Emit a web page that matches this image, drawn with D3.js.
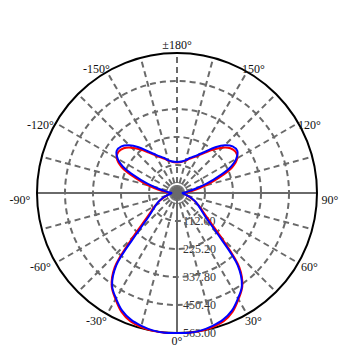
<!DOCTYPE html>
<html>
<head>
<meta charset="utf-8">
<script src="https://cdn.jsdelivr.net/npm/d3@7"></script>
<style>
  html, body { margin: 0; padding: 0; background: #fff; }
</style>
</head>
<body>
<svg id="chart"></svg>
<script>
// gamma angles (deg) of each half plane, 0 = nadir
const gammas = [0, 5, 10, 15, 20, 25, 30, 35, 40, 45, 50, 55, 60, 65, 70, 75, 80, 85, 90,
  95, 100, 105, 110, 115, 120, 125, 130, 135, 140, 145, 150, 155, 160, 165, 170, 175, 180];

// intensity (cd) per gamma
const redValues = [563, 564, 563, 558, 549, 528, 494, 458, 390, 250, 165, 125, 100, 80, 60, 45, 35, 28, 25,
  45, 75, 120, 180, 245, 280, 288, 280, 258, 228, 198, 175, 158, 146, 135, 128, 124, 123];
const blueValues = [563, 564, 561, 553, 542, 522, 490, 455, 380, 225, 150, 118, 98, 82, 64, 46, 33, 25, 22,
  35, 55, 95, 155, 230, 275, 296, 292, 272, 240, 205, 180, 162, 150, 137, 130, 126, 125];

const ringValues = [112.6, 225.2, 337.8, 450.4, 563.0];
const ringLabels = ['112.60', '225.20', '337.80', '450.40', '563.00'];
const angleTicks = [0, 30, 60, 90, 120, 150, 180, -150, -120, -90, -60, -30];
const angleLabels = ['0°', '30°', '60°', '90°', '120°', '150°', '±180°', '-150°', '-120°', '-90°', '-60°', '-30°'];

const width = 350, height = 350;
const cx = 177, cy = 193, R = 140;

const svg = d3.select('#chart')
  .attr('width', width)
  .attr('height', height)
  .attr('viewBox', [0, 0, width, height]);

const g = svg.append('g').attr('transform', `translate(${cx},${cy})`);

const r = d3.scaleLinear().domain([0, 563]).range([0, R]);
// gamma (signed, deg) -> lineRadial angle (0 at top, clockwise)
const toAngle = gm => Math.PI - gm * Math.PI / 180;

// value labels (under the grid)
g.append('g')
  .selectAll('text')
  .data(ringValues)
  .join('text')
    .attr('x', 6)
    .attr('y', d => r(d))
    .attr('dy', '0.35em')
    .attr('font-family', 'Liberation Serif, Times New Roman, serif')
    .attr('font-size', 12)
    .attr('fill', '#333')
    .text((d, i) => ringLabels[i]);

const gridColor = '#6a6a6a';

// dashed rings
g.append('g')
  .selectAll('circle')
  .data(ringValues.slice(0, -1))
  .join('circle')
    .attr('r', d => r(d))
    .attr('fill', 'none')
    .attr('stroke', gridColor)
    .attr('stroke-width', 2)
    .attr('stroke-dasharray', '6,4');

// spokes every 15 deg
const spokes = d3.range(0, 360, 15);
g.append('g')
  .selectAll('line')
  .data(spokes)
  .join('line')
    .attr('x1', 0).attr('y1', 0)
    .attr('x2', d => R * Math.sin(d * Math.PI / 180))
    .attr('y2', d => R * Math.cos(d * Math.PI / 180))
    .attr('stroke', gridColor)
    .attr('stroke-width', 2)
    .attr('stroke-dasharray', d => (d % 90 === 0 && d !== 180) ? null : '6,4');

// short spokes round the centre
g.append('g')
  .selectAll('line')
  .data(d3.range(0, 360, 5))
  .join('line')
    .attr('x1', 0).attr('y1', 0)
    .attr('x2', d => 11 * Math.sin(d * Math.PI / 180))
    .attr('y2', d => 11 * Math.cos(d * Math.PI / 180))
    .attr('stroke', gridColor)
    .attr('stroke-width', 1)
    .attr('stroke-dasharray', '3,2');

g.append('circle').attr('r', 3.5).attr('fill', gridColor);

// outer circle
g.append('circle')
  .attr('r', R)
  .attr('fill', 'none')
  .attr('stroke', '#000')
  .attr('stroke-width', 2);

// angle labels
g.append('g')
  .selectAll('text')
  .data(angleTicks)
  .join('text')
    .attr('x', d => 153 * Math.sin(d * Math.PI / 180) + (d < 0 ? -4 : 0))
    .attr('y', d => 148 * Math.cos(d * Math.PI / 180)
      + (Math.abs(d) >= 90 && Math.abs(d) < 180 ? 7 * Math.abs(Math.sin(d * Math.PI / 180)) : 0))
    .attr('dy', '0.35em')
    .attr('text-anchor', 'middle')
    .attr('font-family', 'Liberation Serif, Times New Roman, serif')
    .attr('font-size', 12)
    .attr('fill', '#111')
    .text((d, i) => angleLabels[i]);

// curves: left half (-180..0) then right half (0..180)
const fullCurve = values => {
  const pts = [];
  for (let i = gammas.length - 1; i > 0; i--) pts.push([-gammas[i], values[i]]);
  for (let i = 0; i < gammas.length; i++) pts.push([gammas[i], values[i]]);
  return pts;
};

const line = d3.lineRadial()
  .angle(d => toAngle(d[0]))
  .radius(d => r(d[1]))
  .curve(d3.curveCatmullRom);

g.append('path')
  .attr('d', line(fullCurve(redValues)))
  .attr('fill', 'none')
  .attr('stroke', '#ff0000')
  .attr('stroke-width', 2);

g.append('path')
  .attr('d', line(fullCurve(blueValues)))
  .attr('fill', 'none')
  .attr('stroke', '#0000ff')
  .attr('stroke-width', 2);
</script>
</body>
</html>
